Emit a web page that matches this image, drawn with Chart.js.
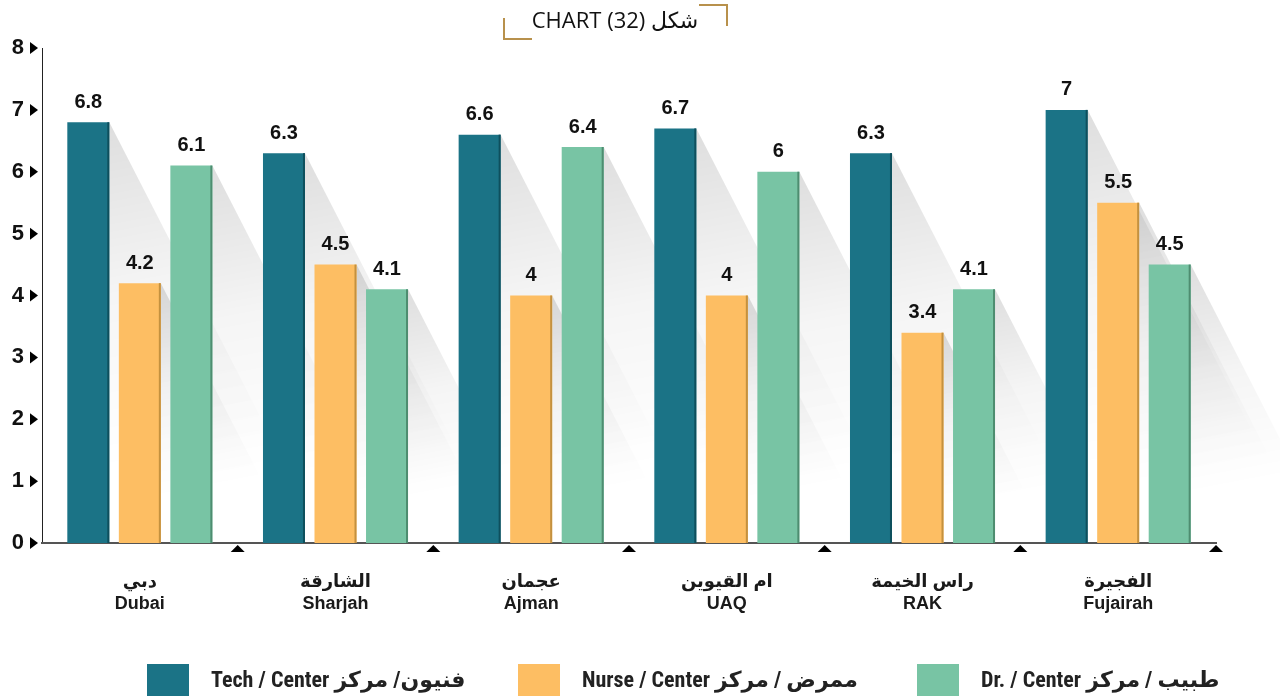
<!DOCTYPE html>
<html>
<head>
<meta charset="utf-8">
<title>CHART (32)</title>
<script src="https://cdn.jsdelivr.net/npm/chart.js@4.4.1/dist/chart.umd.min.js"></script>
<style>
    body { margin: 0; background: #fff; }
    #wrap { width: 1280px; height: 697px; }
</style>
</head>
<body>
<div id="wrap"><canvas id="myGraph" width="1280" height="697"></canvas></div>
<script>
// Categories (Arabic / English)
var regionsAr = ['دبي', 'الشارقة', 'عجمان', 'ام القيوين', 'راس الخيمة', 'الفجيرة'];
var regionsEn = ['Dubai', 'Sharjah', 'Ajman', 'UAQ', 'RAK', 'Fujairah'];

// Series values
var techValues = [6.8, 6.3, 6.6, 6.7, 6.3, 7];
var nurseValues = [4.2, 4.5, 4, 4, 3.4, 5.5];
var doctorValues = [6.1, 4.1, 6.4, 6, 4.1, 4.5];

// Legend text
var seriesNames = ['Tech / Center فنيون/ مركز', 'Nurse / Center ممرض / مركز', 'Dr. / Center طبيب / مركز'];

// Y tick values
var yTicks = [0, 1, 2, 3, 4, 5, 6, 7, 8];

var colors = ['#1b7386', '#fdbe63', '#78c4a4'];
var edges = ['#0e4f5d', '#c4913f', '#4e8d70'];
var bold = '"Liberation Sans", Arial, "DejaVu Sans", sans-serif';

// Shadows behind the bars
var shadowPlugin = {
    id: 'shadows',
    beforeDatasetsDraw: function (chart) {
        var c = chart.ctx;
        var base = chart.scales.y.getPixelForValue(0);
        c.save();
        chart.data.datasets.forEach(function (ds, i) {
            chart.getDatasetMeta(i).data.forEach(function (bar) {
                var xr = bar.x + bar.width / 2;
                var top = bar.y;
                var run = (base - top) / 1.95;
                var g = c.createLinearGradient(xr, top, xr + run * 0.3, top + (base - top) * 0.8);
                g.addColorStop(0, 'rgba(0,0,0,0.13)');
                g.addColorStop(0.5, 'rgba(0,0,0,0.04)');
                g.addColorStop(1, 'rgba(0,0,0,0)');
                c.fillStyle = g;
                c.beginPath();
                c.moveTo(xr, top);
                c.lineTo(xr + run, base);
                c.lineTo(xr, base);
                c.closePath();
                c.fill();
            });
        });
        c.restore();
    },
    afterDatasetsDraw: function (chart) {
        var c = chart.ctx;
        c.save();
        chart.data.datasets.forEach(function (ds, i) {
            chart.getDatasetMeta(i).data.forEach(function (bar, j) {
                var xr = bar.x + bar.width / 2;
                // darker right edge
                c.fillStyle = edges[i];
                c.fillRect(xr - 2, bar.y, 2, bar.base - bar.y);
                // value label
                c.fillStyle = '#111';
                c.font = 'bold 20px ' + bold;
                c.textAlign = 'center';
                c.textBaseline = 'middle';
                c.fillText(ds.data[j], bar.x, bar.y - 20);
            });
        });
        c.restore();
    }
};

// Axis arrows, title and legend
var decorPlugin = {
    id: 'decor',
    afterDraw: function (chart) {
        var c = chart.ctx;
        var area = chart.chartArea;
        var y = chart.scales.y;
        c.save();

        // y arrows
        c.fillStyle = '#000';
        yTicks.forEach(function (v) {
            var py = y.getPixelForValue(v);
            c.beginPath();
            c.moveTo(30, py - 6);
            c.lineTo(38, py);
            c.lineTo(30, py + 6);
            c.closePath();
            c.fill();
        });

        // x arrows at category boundaries
        var step = (area.right - area.left) / regionsEn.length;
        for (var k = 1; k <= regionsEn.length; k++) {
            var px = area.left + step * k;
            c.beginPath();
            c.moveTo(px, area.bottom + 2);
            c.lineTo(px + 7, area.bottom + 9);
            c.lineTo(px - 7, area.bottom + 9);
            c.closePath();
            c.fill();
        }

        // title
        c.fillStyle = '#111';
        c.font = '22px "Open Sans", "DejaVu Sans", sans-serif';
        c.textAlign = 'center';
        c.textBaseline = 'middle';
        c.fillText('CHART (32) شكل', 615, 22);
        c.strokeStyle = '#b8914c';
        c.lineWidth = 2;
        c.beginPath();
        c.moveTo(504, 18);
        c.lineTo(504, 39);
        c.lineTo(532, 39);
        c.moveTo(699, 5);
        c.lineTo(727, 5);
        c.lineTo(727, 26);
        c.stroke();

        // legend
        var boxX = [147, 518, 917];
        c.font = 'bold 22px "Liberation Sans Narrow", "Roboto Condensed", ' + bold;
        c.textAlign = 'left';
        for (var i = 0; i < seriesNames.length; i++) {
            c.fillStyle = colors[i];
            c.fillRect(boxX[i], 664, 42, 32);
            c.fillStyle = '#222';
            c.fillText(seriesNames[i], boxX[i] + 64, 681);
        }
        c.restore();
    }
};

var ctx = document.getElementById('myGraph').getContext('2d');

var chart = new Chart(ctx, {
    type: 'bar',
    data: {
        labels: regionsEn.map(function (en, i) { return [regionsAr[i], en]; }),
        datasets: [
            { label: seriesNames[0], data: techValues, backgroundColor: colors[0] },
            { label: seriesNames[1], data: nurseValues, backgroundColor: colors[1] },
            { label: seriesNames[2], data: doctorValues, backgroundColor: colors[2] }
        ]
    },
    options: {
        responsive: false,
        animation: false,
        layout: { padding: { top: 48, right: 64, left: 0, bottom: 0 } },
        datasets: {
            bar: { categoryPercentage: 0.79, barPercentage: 0.815 }
        },
        plugins: {
            legend: { display: false },
            tooltip: { enabled: false }
        },
        scales: {
            y: {
                min: 0,
                max: 8,
                afterFit: function (s) { s.width = 42; },
                grid: { display: false, drawTicks: false },
                border: { display: true, color: '#222', width: 1 },
                ticks: {
                    stepSize: 1,
                    padding: 18,
                    color: '#111',
                    font: { family: bold, size: 22, weight: 'bold' }
                }
            },
            x: {
                afterFit: function (s) { s.height = 154; },
                grid: { display: false, drawTicks: false },
                border: { display: true, color: '#555', width: 2 },
                ticks: {
                    padding: 29,
                    color: '#1a1a1a',
                    font: { family: bold, size: 18, weight: 'bold', lineHeight: 1.17 }
                }
            }
        }
    },
    plugins: [shadowPlugin, decorPlugin]
});
</script>
</body>
</html>
